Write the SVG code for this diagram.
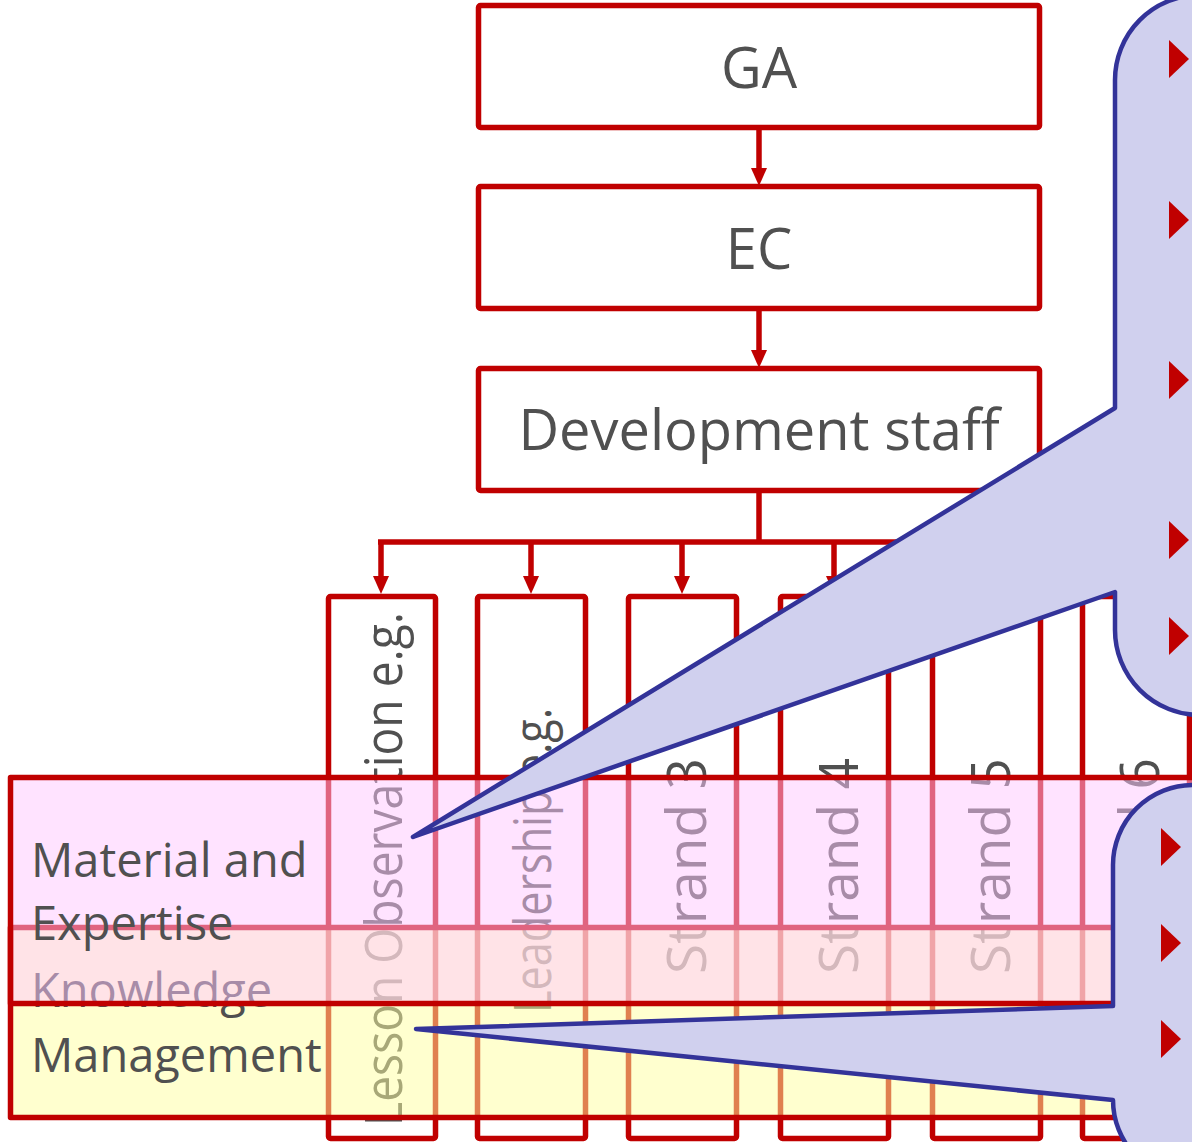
<svg xmlns="http://www.w3.org/2000/svg" width="1192" height="1142" viewBox="0 0 1192 1142">
<defs>
<marker id="ah" markerUnits="userSpaceOnUse" markerWidth="18" markerHeight="16" refX="10" refY="8" orient="auto" viewBox="0 0 18 16"><path d="M0,0 L18,8 L0,16 z" fill="#C00000"/></marker>
</defs>
<style>
.box{fill:#fff;stroke:#C00000;stroke-width:5.5;stroke-linejoin:round}
.lbl{font-family:'Open Sans','Noto Sans',sans-serif;fill:#505050}
.big{font-size:56px;text-anchor:middle}
.str{font-size:55px}
.conn{stroke:#C00000;stroke-width:5.5;fill:none}
.arr{stroke:#C00000;stroke-width:5.5;fill:none;marker-end:url(#ah)}
.band{stroke:#C00000;stroke-width:5.5;stroke-linejoin:round}
.side{font-size:47px}
.callout{fill:#D0D0EE;stroke:#333399;stroke-width:4.5;stroke-linejoin:round}
.bullet{fill:#C00000}
</style>
<rect width="1192" height="1142" fill="#fff"/>

<g id="connectors">
<line class="arr" x1="759" y1="127" x2="759" y2="178"/>
<line class="arr" x1="759" y1="308" x2="759" y2="360"/>
<polyline class="conn" points="759,490 759,542"/>
<line class="conn" x1="378" y1="542" x2="1138" y2="542"/>
<line class="arr" x1="381" y1="542" x2="381" y2="586"/>
<line class="arr" x1="531" y1="542" x2="531" y2="586"/>
<line class="arr" x1="682" y1="542" x2="682" y2="586"/>
<line class="arr" x1="834" y1="542" x2="834" y2="586"/>
<line class="arr" x1="986" y1="542" x2="986" y2="586"/>
<line class="arr" x1="1136" y1="542" x2="1136" y2="586"/>
</g>

<g id="node-ga">
<rect class="box" x="478.5" y="5.5" width="561" height="122" rx="2"/>
<text class="lbl big" x="759" y="88">GA</text>
</g>
<g id="node-ec">
<rect class="box" x="478.5" y="186.5" width="561" height="122" rx="2"/>
<text class="lbl big" x="759" y="269">EC</text>
</g>
<g id="node-dev">
<rect class="box" x="478.5" y="368.5" width="561" height="122" rx="2"/>
<text class="lbl big" x="759" y="450">Development staff</text>
</g>

<g id="node-strand1">
<rect class="box" x="328.5" y="596.5" width="107" height="542" rx="2"/>
<text class="lbl" font-size="51" transform="translate(402,1126) rotate(-90)" textLength="514" lengthAdjust="spacingAndGlyphs">Lesson Observation e.g.</text>
</g>
<g id="node-strand2">
<rect class="box" x="477.5" y="596.5" width="108" height="542" rx="2"/>
<text class="lbl" font-size="51" transform="translate(551,1013) rotate(-90)" textLength="305" lengthAdjust="spacingAndGlyphs">Leadership e.g.</text>
</g>
<g id="node-strand3">
<rect class="box" x="628.5" y="596.5" width="108" height="542" rx="2"/>
<text class="lbl str" transform="translate(706,974) rotate(-90)">Strand 3</text>
</g>
<g id="node-strand4">
<rect class="box" x="780.5" y="596.5" width="108" height="542" rx="2"/>
<text class="lbl str" transform="translate(858,974) rotate(-90)">Strand 4</text>
</g>
<g id="node-strand5">
<rect class="box" x="932.5" y="596.5" width="108" height="542" rx="2"/>
<text class="lbl str" transform="translate(1010,974) rotate(-90)">Strand 5</text>
</g>
<g id="node-strand6">
<rect class="box" x="1082.5" y="596.5" width="107" height="542" rx="2"/>
<text class="lbl str" transform="translate(1159,974) rotate(-90)">Strand 6</text>
</g>

<g id="band-knowledge">
<rect class="band" x="10.5" y="927.5" width="1210" height="190" fill="rgb(255,255,160)" fill-opacity="0.5"/>
<text class="lbl side" x="31" y="1007">Knowledge</text>
<text class="lbl side" x="31" y="1072">Management</text>
</g>
<g id="band-material">
<rect class="band" x="10.5" y="777.5" width="1210" height="226" fill="rgb(255,200,255)" fill-opacity="0.5"/>
<text class="lbl side" x="31" y="877">Material and</text>
<text class="lbl side" x="31" y="940">Expertise</text>
</g>

<g id="callout-1">
<path class="callout" d="M1115,80 L1115,408 L413,837 L1115,592 L1115,630 A85,85 0 0 0 1200,715 L1200,-5 A85,85 0 0 0 1115,80 Z"/>
<path class="bullet" d="M1169,40 L1189,59 L1169,78 Z"/>
<path class="bullet" d="M1169,201 L1189,220 L1169,239 Z"/>
<path class="bullet" d="M1169,361 L1189,380 L1169,399 Z"/>
<path class="bullet" d="M1169,521 L1189,540 L1169,559 Z"/>
<path class="bullet" d="M1169,617 L1189,636 L1169,655 Z"/>
</g>
<g id="callout-2">
<path class="callout" d="M1113,865 L1113,1006 L416,1029 L1113,1100 A80,80 0 0 0 1193,1180 L1200,1180 L1200,785 L1193,785 A80,80 0 0 0 1113,865 Z"/>
<path class="bullet" d="M1161,828 L1181,847 L1161,866 Z"/>
<path class="bullet" d="M1161,924 L1181,943 L1161,962 Z"/>
<path class="bullet" d="M1161,1020 L1181,1039 L1161,1058 Z"/>
</g>
</svg>
